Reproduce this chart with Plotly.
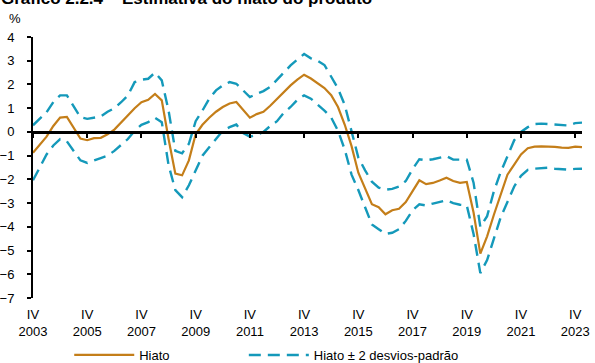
import pandas as pd
import plotly.graph_objects as go

# Quarterly periods, 2003Q4 to 2024Q1
quarters = [str(p) for p in pd.period_range("2003Q4", "2024Q1", freq="Q")]

# Output gap estimate (%)
hiato = [
    -0.88, -0.55, -0.20, 0.25, 0.60, 0.63, 0.20, -0.28, -0.35, -0.26,
    -0.25, -0.10, 0.10, 0.40, 0.70, 1.00, 1.25, 1.35, 1.60, 1.33,
    -0.30, -1.76, -1.83, -1.20, -0.10, 0.30, 0.60, 0.85, 1.05, 1.20,
    1.26, 0.95, 0.60, 0.75, 0.85, 1.10, 1.40, 1.70, 1.96, 2.20,
    2.41, 2.25, 2.05, 1.85, 1.55, 1.05, 0.30, -0.60, -1.72, -2.40,
    -3.05, -3.17, -3.47, -3.30, -3.24, -2.96, -2.50, -2.04, -2.20, -2.15,
    -2.05, -1.93, -2.07, -2.15, -2.11, -3.40, -5.13, -4.40, -3.49, -2.60,
    -1.80, -1.38, -0.95, -0.69, -0.62, -0.61, -0.61, -0.63, -0.66, -0.67,
    -0.62, -0.64,
]

# Upper band: gap + 2 standard deviations
superior = [
    0.28, 0.55, 0.83, 1.26, 1.54, 1.54, 1.10, 0.62, 0.55, 0.60,
    0.65, 0.85, 1.00, 1.25, 1.54, 2.10, 2.20, 2.24, 2.50, 2.17,
    0.90, -0.80, -0.90, -0.50, 0.45, 0.90, 1.40, 1.75, 1.96, 2.10,
    2.03, 1.75, 1.47, 1.60, 1.72, 1.90, 2.20, 2.50, 2.80, 3.05,
    3.28, 3.10, 3.00, 2.82, 2.35, 1.83, 1.13, 0.06, -1.08, -1.62,
    -2.10, -2.35, -2.44, -2.40, -2.30, -2.07, -1.57, -1.15, -1.20, -1.15,
    -1.10, -1.02, -1.17, -1.17, -1.17, -2.14, -4.00, -3.55, -2.50, -1.70,
    -1.00, -0.35, 0.00, 0.20, 0.33, 0.35, 0.33, 0.32, 0.30, 0.27,
    0.37, 0.39,
]

# Lower band: gap - 2 standard deviations
inferior = [
    -2.04, -1.50, -0.95, -0.57, -0.30, -0.40, -0.78, -1.20, -1.31, -1.22,
    -1.10, -1.00, -0.80, -0.55, -0.30, 0.05, 0.30, 0.41, 0.60, 0.41,
    -1.40, -2.45, -2.75, -2.25, -1.62, -1.00, -0.65, -0.30, 0.05, 0.20,
    0.31, -0.05, -0.20, -0.12, 0.00, 0.25, 0.45, 0.80, 1.05, 1.35,
    1.54, 1.40, 1.15, 0.90, 0.60, 0.05, -0.75, -1.80, -2.45, -3.20,
    -3.90, -4.10, -4.30, -4.25, -4.10, -3.75, -3.30, -3.05, -3.10, -3.02,
    -2.94, -2.88, -3.00, -3.07, -3.10, -4.30, -5.95, -5.40, -4.50, -3.60,
    -2.95, -2.30, -1.85, -1.60, -1.55, -1.52, -1.51, -1.55, -1.58, -1.59,
    -1.56, -1.55,
]

y_ticks = list(range(-7, 5))
x_idx = list(range(len(quarters)))
tick_idx = [i for i, q in enumerate(quarters) if q.endswith("Q4") and int(q[:4]) % 2 == 1]
tick_text = ["IV<br>" + quarters[i][:4] for i in tick_idx]

ORANGE = "#C47E19"
TEAL = "#1499BA"
FONT = "Arial, Liberation Sans, sans-serif"

fig = go.Figure()
fig.add_trace(go.Scatter(
    x=x_idx, y=hiato, mode="lines", name="Hiato", legend="legend",
    line=dict(color=ORANGE, width=2.2),
))
fig.add_trace(go.Scatter(
    x=x_idx, y=superior, mode="lines", name="Hiato ± 2 desvios-padrão",
    legend="legend2",
    line=dict(color=TEAL, width=2.4, dash="12px,7px"),
))
fig.add_trace(go.Scatter(
    x=x_idx, y=inferior, mode="lines", name="inferior", showlegend=False,
    line=dict(color=TEAL, width=2.4, dash="12px,7px"),
))
# carrier for the axis drawn at y = 0
fig.add_trace(go.Scatter(
    x=[0, len(quarters) - 1], y=[0, 0], xaxis="x2", mode="lines",
    line=dict(width=0), showlegend=False, hoverinfo="skip",
))

legend_style = dict(
    orientation="h", xanchor="left", y=-0.161, yanchor="top",
    font=dict(size=13), itemwidth=60, bgcolor="rgba(0,0,0,0)",
)

fig.update_layout(
    width=595, height=363,
    margin=dict(l=33, r=13, t=37, b=65, autoexpand=False),
    paper_bgcolor="white", plot_bgcolor="white",
    font=dict(family=FONT, size=13, color="black"),
    xaxis=dict(
        range=[0, len(quarters) - 1], tickvals=tick_idx, ticktext=tick_text,
        showline=False, showgrid=False, zeroline=False, ticks="",
        tickfont=dict(size=13), ticklabelstandoff=7, automargin=False,
    ),
    xaxis2=dict(
        matches="x", overlaying="x", anchor="free", position=7 / 11,
        side="bottom", showline=True, linecolor="black", linewidth=2.5,
        ticks="outside", ticklen=4, tickwidth=2, tickcolor="black",
        tickvals=tick_idx, showticklabels=False, showgrid=False, zeroline=False,
        automargin=False,
    ),
    yaxis=dict(
        range=[-7, 4], tickvals=y_ticks, showgrid=False, zeroline=False,
        showline=True, linecolor="black", linewidth=2,
        ticks="outside", ticklen=4, tickwidth=2, tickcolor="black",
        tickfont=dict(size=13), ticklabelstandoff=10, automargin=False,
    ),
    legend=dict(x=0.066, **legend_style),
    legend2=dict(x=0.384, **legend_style),
    showlegend=True,
    annotations=[
        dict(text="%", xref="paper", yref="paper", x=-0.033, y=1.07,
             xanchor="center", yanchor="middle", showarrow=False,
             font=dict(size=13)),
        dict(text="<b>Gráfico 2.2.4 – Estimativa do hiato do produto</b>",
             xref="paper", yref="paper", x=-0.062, y=1.146,
             xanchor="left", yanchor="middle", showarrow=False,
             font=dict(size=17)),
    ],
)

fig.write_html("out.html")
